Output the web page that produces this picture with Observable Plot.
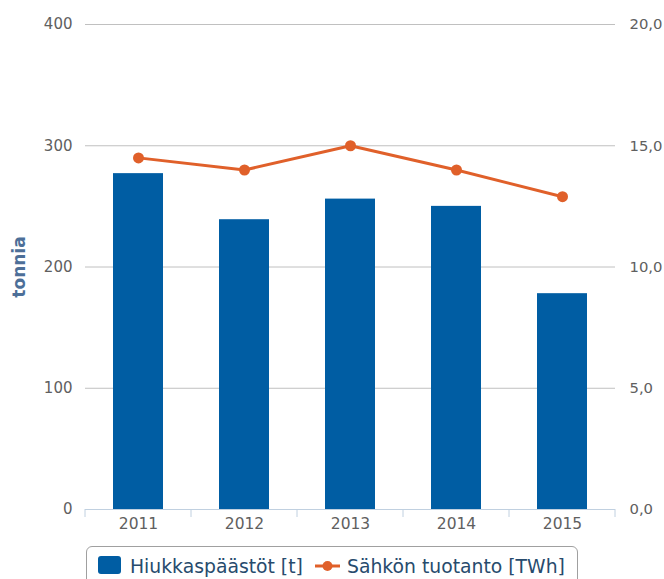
<!DOCTYPE html>
<html>
<head>
<meta charset="utf-8">
<script src="https://cdn.jsdelivr.net/npm/d3@7"></script>
<script src="https://cdn.jsdelivr.net/npm/@observablehq/plot@0.6"></script>
<style>
  html, body { margin: 0; padding: 0; background: #fff; }
  #wrap { position: relative; width: 664px; height: 579px; overflow: hidden; font-family: "DejaVu Sans", Verdana, sans-serif; }
  #legend { position: absolute; left: 86px; top: 546px; width: 492px; height: 50px; border: 1px solid #a0a0a0; border-radius: 6px; box-sizing: border-box; }
  .lg-text { position: absolute; top: 9px; font-size: 18.8px; color: #274b6d; white-space: nowrap; line-height: 22px; }
</style>
</head>
<body>
<div id="wrap">
  <div id="chart"></div>
  <div id="legend"></div>
</div>
<script>
const years = ["2011", "2012", "2013", "2014", "2015"];
const particulates = [277, 239, 256, 250, 178];        // Hiukkaspäästöt [t]
const electricity = [14.5, 14.0, 15.0, 14.0, 12.9];     // Sähkön tuotanto [TWh]
const leftTicks = [0, 100, 200, 300, 400];
const rightTicks = [0, 5, 10, 15, 20];
const seriesNames = ["Hiukkaspäästöt [t]", "Sähkön tuotanto [TWh]"];
const axisTitle = "tonnia";

const barColor = "#005da3";
const lineColor = "#e0602a";
const ratio = 400 / 20;

const rows = years.map((y, i) => ({year: y, pm: particulates[i], el: electricity[i]}));
const fmtRight = d => d3.format(".1f")(d / ratio).replace(".", ",");

const chart = Plot.plot({
  width: 664,
  height: 540,
  marginTop: 24,
  marginBottom: 31,
  marginLeft: 85,
  marginRight: 49,
  style: {fontFamily: "DejaVu Sans, Verdana, sans-serif", background: "#fff", overflow: "visible"},
  x: {type: "band", domain: years, padding: 0},
  y: {domain: [0, 400]},
  marks: [
    Plot.ruleY(leftTicks.filter(d => d > 0), {stroke: "#c0c0c0", strokeWidth: 1}),
    Plot.ruleY([0], {stroke: "#c0d0e0", strokeWidth: 1}),
    Plot.axisY(leftTicks, {anchor: "left", tickSize: 0, tickPadding: 13, fontSize: 15, fill: "#606060", label: null}),
    Plot.axisY(rightTicks.map(v => v * ratio), {anchor: "right", tickSize: 0, tickPadding: 14, fontSize: 14.8, fill: "#606060", tickFormat: fmtRight, label: null}),
    Plot.axisX({tickSize: 0, tickPadding: 8, fontSize: 15.5, fill: "#606060", label: null}),
    Plot.barY(rows, {x: "year", y: "pm", fill: barColor, insetLeft: 28, insetRight: 28}),
    Plot.line(rows, {x: "year", y: d => d.el * ratio, stroke: lineColor, strokeWidth: 3}),
    Plot.dot(rows, {x: "year", y: d => d.el * ratio, r: 5.5, fill: lineColor, stroke: "none"}),
    Plot.text([axisTitle], {frameAnchor: "left", textAnchor: "middle", dx: -66, rotate: -90, fontSize: 17, fontWeight: "bold", fill: "#4d6f98"})
  ]
});
document.getElementById("chart").appendChild(chart);

// band boundary tick marks on the x axis
const xs = chart.scale("x");
const ys = chart.scale("y");
const bw = xs.bandwidth;
const bounds = years.map(y => xs.apply(y)).concat([xs.apply(years[years.length - 1]) + bw]);
const y0 = ys.apply(0);
d3.select(chart).append("g")
  .selectAll("line").data(bounds).join("line")
  .attr("x1", d => d).attr("x2", d => d)
  .attr("y1", y0).attr("y2", y0 + 8)
  .attr("stroke", "#c0d0e0").attr("stroke-width", 1);

// legend
const legend = d3.select("#legend");
const lsvg = legend.append("svg").attr("width", 492).attr("height", 50).style("position", "absolute").style("left", 0).style("top", 0);
lsvg.append("rect").attr("x", 11).attr("y", 9).attr("width", 23).attr("height", 18).attr("rx", 3).attr("fill", barColor);
lsvg.append("line").attr("x1", 228).attr("x2", 253).attr("y1", 19).attr("y2", 19).attr("stroke", lineColor).attr("stroke-width", 3);
lsvg.append("circle").attr("cx", 240.5).attr("cy", 19).attr("r", 5).attr("fill", lineColor);
legend.append("div").attr("class", "lg-text").style("left", "43px").text(seriesNames[0]);
legend.append("div").attr("class", "lg-text").style("left", "260px").text(seriesNames[1]);
</script>
</body>
</html>
